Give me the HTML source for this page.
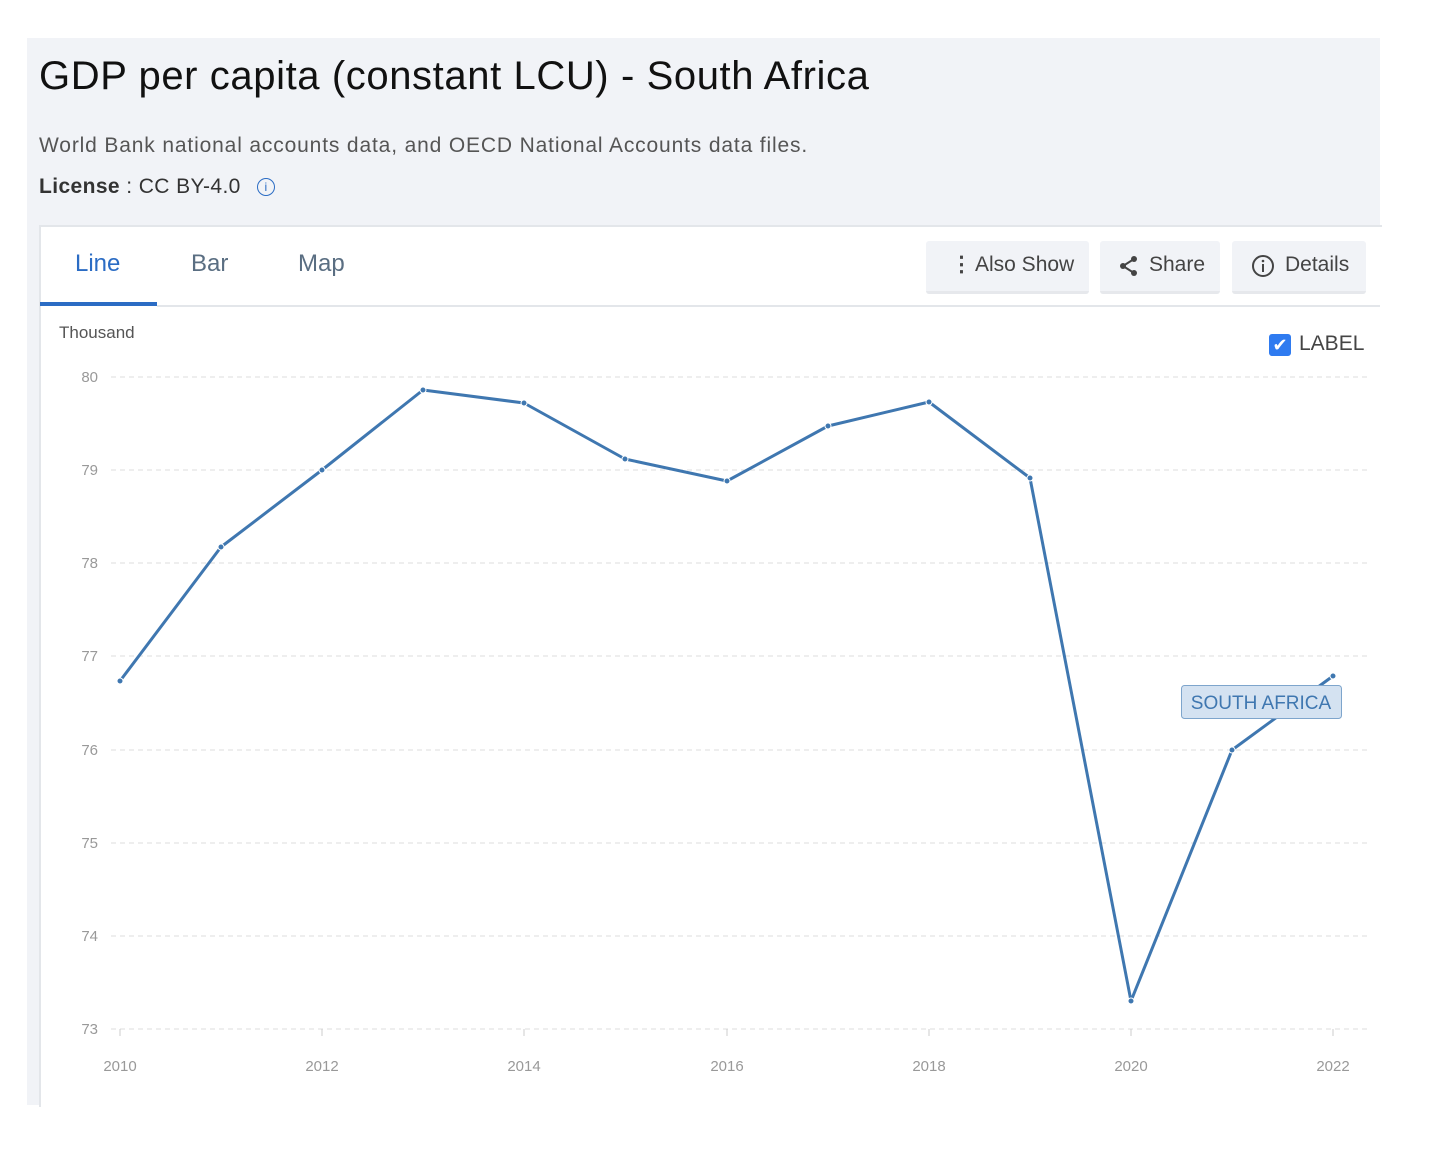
<!DOCTYPE html>
<html><head><style>
body{margin:0;width:1430px;height:1158px;background:#fff;font-family:"Liberation Sans",sans-serif;position:relative;overflow:hidden}
.top{position:absolute;left:27px;top:38px;width:1353px;height:1067px;background:#f1f3f7}
.card{position:absolute;left:39px;top:225px;width:1341px;height:880px;background:#fff;border-top:2px solid #e3e6ea;border-left:2px solid #e3e6ea}
h1{position:absolute;left:39px;top:54px;margin:0;font-size:40px;font-weight:normal;color:#111;letter-spacing:0.6px}
.t{position:absolute;white-space:nowrap}
.btn{position:absolute;top:241px;height:50px;background:#f1f3f7;border-bottom:3px solid #e6e8ec;border-radius:3px;font-size:21px;color:#444;line-height:48px}
</style></head><body>
<div class="top"></div>
<div class="card"></div>
<h1>GDP per capita (constant LCU) - South Africa</h1>
<div class="t" style="left:39px;top:134px;font-size:21px;color:#555;letter-spacing:0.85px">World Bank national accounts data, and OECD National Accounts data files.</div>
<div class="t" style="left:39px;top:175px;font-size:21px;color:#333;letter-spacing:0.4px"><b>License</b> : CC BY-4.0 <span style="display:inline-block;width:16px;height:16px;border:1.5px solid #2b6cc4;border-radius:50%;color:#2b6cc4;font-size:12px;line-height:16px;text-align:center;margin-left:10px;vertical-align:2px">i</span></div>
<div class="t" style="left:75px;top:250px;font-size:24px;color:#2b6cc4">Line</div>
<div class="t" style="left:191px;top:250px;font-size:24px;color:#5a6e82">Bar</div>
<div class="t" style="left:298px;top:250px;font-size:24px;color:#5a6e82">Map</div>
<div style="position:absolute;left:40px;top:302px;width:117px;height:4px;background:#2b6cc4"></div>
<div style="position:absolute;left:157px;top:305px;width:1223px;height:2px;background:#e3e6ea"></div>
<div class="btn" style="left:926px;width:163px"><span style="position:absolute;left:25px;font-weight:bold">⋮</span><span style="position:absolute;left:49px">Also Show</span></div>
<div class="btn" style="left:1100px;width:120px"><svg style="position:absolute;left:19px;top:14px" width="20" height="22"><circle cx="15" cy="4" r="3" fill="#444"/><circle cx="4" cy="11" r="3" fill="#444"/><circle cx="15" cy="18" r="3" fill="#444"/><path d="M15 4L4 11L15 18" stroke="#444" stroke-width="2" fill="none"/></svg><span style="position:absolute;left:49px">Share</span></div>
<div class="btn" style="left:1232px;width:134px"><svg style="position:absolute;left:19px;top:13px" width="24" height="24"><circle cx="12" cy="12" r="10" stroke="#444" stroke-width="2" fill="none"/><rect x="11" y="10" width="2" height="8" fill="#444"/><circle cx="12" cy="7" r="1.3" fill="#444"/></svg><span style="position:absolute;left:53px">Details</span></div>
<div class="t" style="left:59px;top:323px;font-size:17px;color:#555">Thousand</div>
<div style="position:absolute;left:1269px;top:334px;width:22px;height:22px;background:#2f7bf0;border-radius:3px;color:#fff;font-size:18px;line-height:22px;text-align:center">✔</div>
<div class="t" style="left:1299px;top:332px;font-size:21px;color:#444">LABEL</div>
<svg style="position:absolute;left:0;top:0" width="1430" height="1158">
<g stroke="#ddd" stroke-dasharray="5,4" stroke-width="1">
<line x1="111" x2="1368" y1="377" y2="377"/><line x1="111" x2="1368" y1="470" y2="470"/><line x1="111" x2="1368" y1="563" y2="563"/><line x1="111" x2="1368" y1="656" y2="656"/><line x1="111" x2="1368" y1="750" y2="750"/><line x1="111" x2="1368" y1="843" y2="843"/><line x1="111" x2="1368" y1="936" y2="936"/><line x1="111" x2="1368" y1="1029" y2="1029"/>
</g>
<g stroke="#ccc"><line x1="120" x2="120" y1="1029" y2="1036"/><line x1="322" x2="322" y1="1029" y2="1036"/><line x1="524" x2="524" y1="1029" y2="1036"/><line x1="727" x2="727" y1="1029" y2="1036"/><line x1="929" x2="929" y1="1029" y2="1036"/><line x1="1131" x2="1131" y1="1029" y2="1036"/><line x1="1333" x2="1333" y1="1029" y2="1036"/></g>
<g font-size="15" fill="#999" text-anchor="end" font-family="Liberation Sans,sans-serif">
<text x="98" y="382">80</text><text x="98" y="475">79</text><text x="98" y="568">78</text><text x="98" y="661">77</text><text x="98" y="755">76</text><text x="98" y="848">75</text><text x="98" y="941">74</text><text x="98" y="1034">73</text>
</g>
<g font-size="15" fill="#999" text-anchor="middle" font-family="Liberation Sans,sans-serif">
<text x="120" y="1071">2010</text><text x="322" y="1071">2012</text><text x="524" y="1071">2014</text><text x="727" y="1071">2016</text><text x="929" y="1071">2018</text><text x="1131" y="1071">2020</text><text x="1333" y="1071">2022</text>
</g>
<polyline fill="none" stroke="#3f77b0" stroke-width="3" stroke-linejoin="round" points="120,681 221,547 322,470 423,390 524,403 625,459 727,481 828,426 929,402 1030,478 1131,1001 1232,750 1333,676"/>
<g fill="#3f77b0" stroke="#fff" stroke-width="1"><circle cx="120" cy="681" r="3"/><circle cx="221" cy="547" r="3"/><circle cx="322" cy="470" r="3"/><circle cx="423" cy="390" r="3"/><circle cx="524" cy="403" r="3"/><circle cx="625" cy="459" r="3"/><circle cx="727" cy="481" r="3"/><circle cx="828" cy="426" r="3"/><circle cx="929" cy="402" r="3"/><circle cx="1030" cy="478" r="3"/><circle cx="1131" cy="1001" r="3"/><circle cx="1232" cy="750" r="3"/><circle cx="1333" cy="676" r="3"/></g>
<rect x="1181.5" y="685.5" width="160" height="33" rx="3" fill="#d4e2f1" stroke="#7ea5cc"/>
<text x="1261" y="709" font-size="19" fill="#3f77b0" text-anchor="middle" font-family="Liberation Sans,sans-serif">SOUTH AFRICA</text>
</svg>
</body></html>
